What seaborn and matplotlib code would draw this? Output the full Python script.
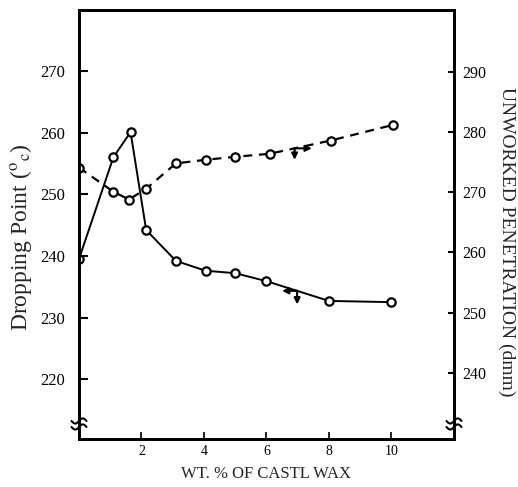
import numpy as np
import pandas as pd
import matplotlib
matplotlib.use("Agg")
import matplotlib.pyplot as plt
import seaborn as sns

# values
wax_drop = [0, 1.1, 1.65, 2.15, 3.1, 4.05, 5.0, 6.0, 8.0, 10.0]
dropping_point = [239.5, 256.0, 260.1, 244.2, 239.2, 237.6, 237.2, 235.9, 232.7, 232.5]

wax_pen = [0, 1.1, 1.6, 2.15, 3.1, 4.05, 5.0, 6.1, 8.05, 10.05]
penetration = [274.1, 270.1, 268.8, 270.6, 274.8, 275.4, 275.9, 276.4, 278.6, 281.2]

x_ticks = [2, 4, 6, 8, 10]
left_ticks = [220, 230, 240, 250, 260, 270]
right_ticks = [240, 250, 260, 270, 280, 290]

sns.set_theme(style="ticks")
plt.rcParams["font.family"] = ["Liberation Serif", "DejaVu Serif"]
plt.rcParams["mathtext.fontset"] = "stix"

df_drop = pd.DataFrame({"wax": wax_drop, "value": dropping_point})
df_pen = pd.DataFrame({"wax": wax_pen, "value": penetration})

fig = plt.figure(figsize=(5.18, 4.87), dpi=100)
ax = fig.add_axes([0.1525, 0.0986, 0.7239, 0.8809])
ax2 = ax.twinx()

marker_kw = dict(marker="o", markersize=6, markerfacecolor="white",
                 markeredgecolor="black", markeredgewidth=1.6)
sns.lineplot(data=df_drop, x="wax", y="value", ax=ax, color="black",
             lw=1.4, sort=False, **marker_kw)
sns.lineplot(data=df_pen, x="wax", y="value", ax=ax2, color="black",
             lw=1.6, sort=False, **marker_kw)
ax2.lines[0].set_dashes((4, 3))

ax.set_xlim(0, 12)
ax.set_ylim(210.3, 279.9)
ax2.set_ylim(229.0, 300.3)
ax.set_xticks(x_ticks)
ax.set_yticks(left_ticks)
ax2.set_yticks(right_ticks)

for a in (ax, ax2):
    for s in a.spines.values():
        s.set_linewidth(2)
        s.set_color("black")

ax.tick_params(axis="x", direction="in", length=5, width=1.2, pad=4,
               labelsize=10, colors="black")
ax.tick_params(axis="y", direction="in", length=6.5, width=1.5, pad=10,
               labelsize=12, colors="black")
ax2.tick_params(axis="y", direction="in", length=4, width=1.5, pad=6,
                labelsize=11.5, colors="black")

ax.set_xlabel("WT. % OF CASTL WAX", fontsize=12, labelpad=6)
ax.set_ylabel(r"Dropping Point ($^{\mathrm{o}}{}_{\mathrm{c}}$)",
              fontsize=17, va="center", ha="center")
ax.yaxis.set_label_coords(-0.155, 0.47)
ax2.set_ylabel("UNWORKED PENETRATION (dmm)", fontsize=14, rotation=270,
               va="center", ha="center")
ax2.yaxis.set_label_coords(1.14, 0.46)

# axis indicator arrows on each curve
arrow_kw = dict(arrowstyle="-|>", color="black", lw=1.5,
                mutation_scale=9, shrinkA=0, shrinkB=0)
yd = np.interp(6.98, wax_drop, dropping_point)
ax.annotate("", xy=(6.5, yd), xytext=(7.0, yd), arrowprops=arrow_kw)
ax.annotate("", xy=(6.98, yd - 2.2), xytext=(6.98, yd), arrowprops=arrow_kw)
yp = np.interp(6.9, wax_pen, penetration)
ax2.annotate("", xy=(7.45, yp), xytext=(6.9, yp), arrowprops=arrow_kw)
ax2.annotate("", xy=(6.9, yp - 1.9), xytext=(6.9, yp), arrowprops=arrow_kw)

# axis break marks
t = np.linspace(-1, 1, 30)
for xa in (0.0, 1.0):
    for yo in (0.028, 0.042):
        ax.plot(xa + t * 0.02, yo + 0.006 * np.sin(np.pi * t),
                transform=ax.transAxes, color="black", lw=1.5,
                clip_on=False)

fig.savefig("out.png", dpi=100)
